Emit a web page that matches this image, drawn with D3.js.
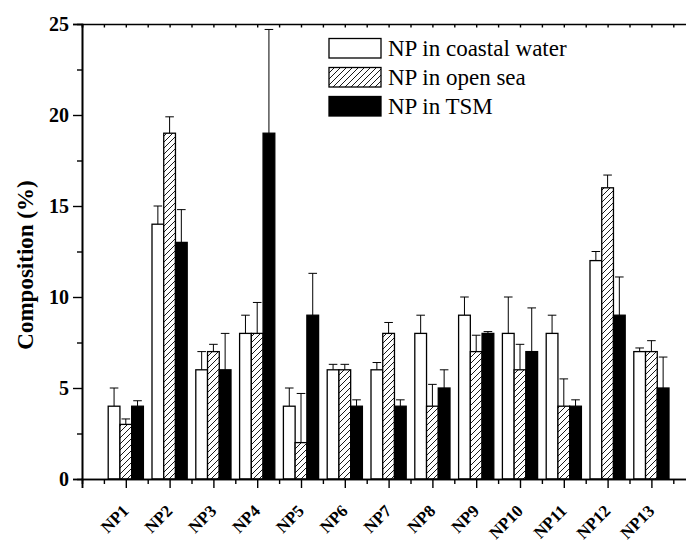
<!DOCTYPE html>
<html><head><meta charset="utf-8">
<script src="https://cdn.jsdelivr.net/npm/d3@7"></script>
<style>body{margin:0;background:#fff} svg{display:block} svg text{font-family:"Liberation Serif","Times New Roman",Tinos,"DejaVu Serif",serif;}</style>
</head><body><svg id="chart" width="686" height="545"></svg>
<script>
const categories = ["NP1","NP2","NP3","NP4","NP5","NP6","NP7","NP8","NP9","NP10","NP11","NP12","NP13"];
const seriesNames = ["NP in coastal water","NP in open sea","NP in TSM"];
const coastal    = [4, 14, 6, 8, 4, 6, 6, 8, 9, 8, 8, 12, 7];
const coastalErr = [1, 1, 1, 1, 1, 0.3, 0.4, 1, 1, 2, 1, 0.5, 0.2];
const openSea    = [3, 19, 7, 8, 2, 6, 8, 4, 7, 6, 4, 16, 7];
const openSeaErr = [0.3, 0.9, 0.4, 1.7, 2.7, 0.3, 0.6, 1.2, 0.9, 1.4, 1.5, 0.7, 0.6];
const tsm        = [4, 13, 6, 19, 9, 4, 4, 5, 8, 7, 4, 9, 5];
const tsmErr     = [0.3, 1.8, 2, 5.7, 2.3, 0.35, 0.35, 1, 0.1, 2.4, 0.35, 2.1, 1.7];
const yTicks = [0, 5, 10, 15, 20, 25];
const yMinorTicks = [2.5, 7.5, 12.5, 17.5, 22.5];
const yLabel = "Composition (%)";

const values = [coastal, openSea, tsm];
const errors = [coastalErr, openSeaErr, tsmErr];
const fills = ["#fff", "url(#hatch)", "#000"];

const svg = d3.select("#chart");
const serif = '"Liberation Serif","Times New Roman",Tinos,"DejaVu Serif",serif';

const defs = svg.append("defs");
const pat = defs.append("pattern").attr("id","hatch").attr("patternUnits","userSpaceOnUse")
  .attr("width",6).attr("height",6);
pat.append("rect").attr("width",6).attr("height",6).attr("fill","#fff");
pat.append("path").attr("d","M-1,1 L1,-1 M0,6 L6,0 M5,7 L7,5").attr("stroke","#000").attr("stroke-width",0.9);

const left = 82, unit = 43.8;
const x = d3.scaleLinear().domain([0, 14]).range([left, left + 14*unit]);
const y = d3.scaleLinear().domain([0, 25]).range([479, 24]);
const inner = d3.scaleBand().domain(d3.range(3)).range([-17.6, 17.6]).padding(0);

// bars
const g = svg.append("g");
categories.forEach((c, i) => {
  const cx = x(i + 1);
  for (let s = 0; s < 3; s++) {
    const v = values[s][i], e = errors[s][i];
    const bx = cx + inner(s), bw = inner.bandwidth();
    const xm = bx + bw/2;
    g.append("line").attr("x1", xm).attr("x2", xm).attr("y1", y(v)).attr("y2", y(v+e))
      .attr("stroke","#000").attr("stroke-width",1);
    g.append("line").attr("x1", xm-4.3).attr("x2", xm+4.3).attr("y1", y(v+e)).attr("y2", y(v+e))
      .attr("stroke","#000").attr("stroke-width",1);
    g.append("rect").attr("x", bx).attr("y", y(v)).attr("width", bw).attr("height", y(0)-y(v))
      .attr("fill", fills[s]).attr("stroke","#000").attr("stroke-width",1.3);
  }
});

function styleAxis(sel){
  sel.attr("font-family", null);
  sel.selectAll(".domain").attr("stroke","#000").attr("stroke-width",1.6);
  sel.selectAll(".tick line").attr("stroke","#000").attr("stroke-width",1.4);
  sel.selectAll("text").style("font-family", serif).style("font-weight","bold").style("font-size","20px").attr("fill","#000");
}

// bottom axis
const majorX = d3.range(0, 15);
const minorX = d3.range(0.5, 14.5, 1);
const bxa = svg.append("g").attr("transform",`translate(0,${y(0)})`)
  .call(d3.axisBottom(x).tickValues(majorX).tickSize(9).tickFormat(""));
styleAxis(bxa);
const bxm = svg.append("g").attr("transform",`translate(0,${y(0)})`)
  .call(d3.axisBottom(x).tickValues(minorX).tickSize(5).tickFormat(""));
styleAxis(bxm);

// top axis (inward ticks)
const tx = svg.append("g").attr("transform",`translate(0,${y(25)})`)
  .call(d3.axisBottom(x).tickValues(d3.range(0, 14.5, 0.5)).tickSize(3.5).tickFormat(""));
styleAxis(tx);

// left axis
const ly = svg.append("g").attr("transform",`translate(${left},0)`)
  .call(d3.axisLeft(y).tickValues(yTicks).tickSize(9).tickPadding(4).tickFormat(d3.format("d")));
styleAxis(ly);
const lym = svg.append("g").attr("transform",`translate(${left},0)`)
  .call(d3.axisLeft(y).tickValues(yMinorTicks).tickSize(5).tickFormat(""));
styleAxis(lym);

// x labels rotated
svg.append("g").selectAll("text").data(categories).join("text")
  .attr("transform", (d,i) => `translate(${x(i+1)+4},${512}) rotate(-45)`)
  .attr("text-anchor","end")
  .style("font-family", serif).style("font-weight","bold").style("font-size","17px")
  .text(d => d);

// y title
svg.append("text").attr("transform","translate(33,265) rotate(-90)")
  .attr("text-anchor","middle").style("font-family", serif).style("font-weight","bold")
  .style("font-size","23px").text(yLabel);

// legend
const lg = svg.append("g");
seriesNames.forEach((n, s) => {
  const top = 38.5 + s*29;
  lg.append("rect").attr("x",329).attr("y",top).attr("width",52).attr("height",19.5)
    .attr("fill",fills[s]).attr("stroke","#000").attr("stroke-width",1.3);
  lg.append("text").attr("x",388).attr("y",top+17.5).style("font-family",serif)
    .style("font-size","23px").text(n);
});
</script></body></html>
